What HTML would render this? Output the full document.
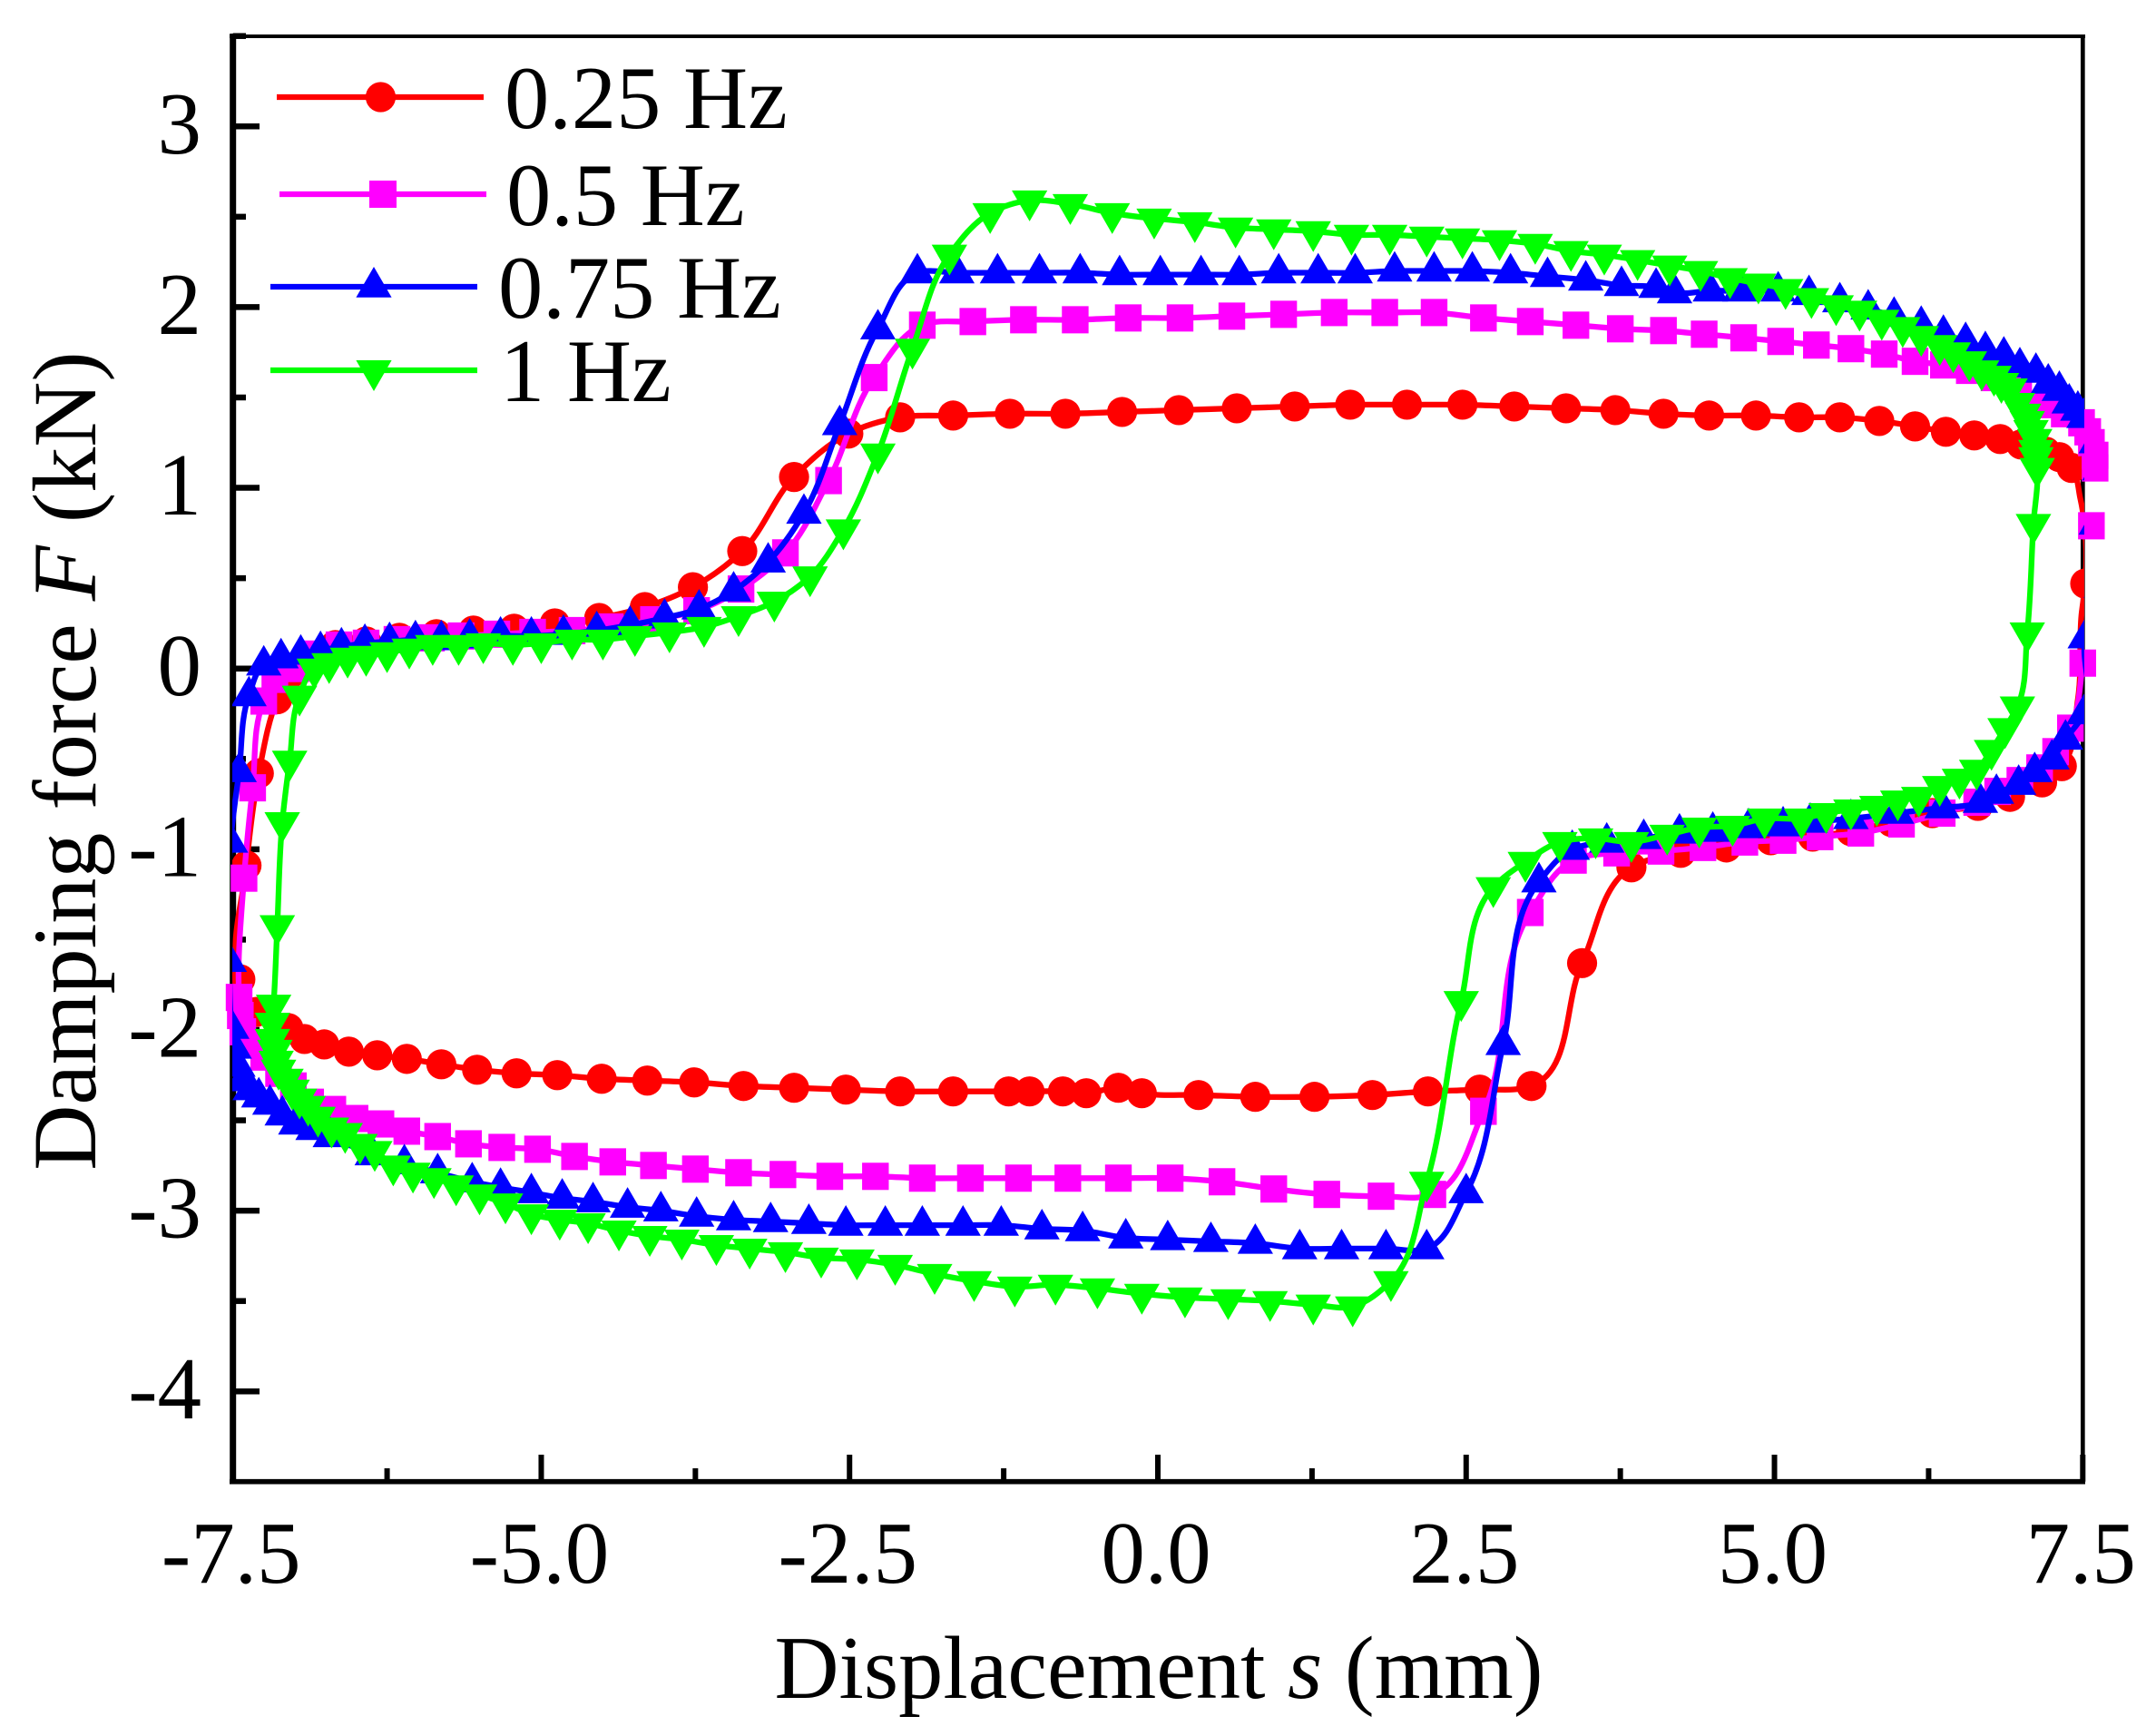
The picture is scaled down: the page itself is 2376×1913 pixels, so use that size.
<!DOCTYPE html>
<html lang="en">
<head>
<meta charset="utf-8">
<title>Damping force vs displacement</title>
<style>
html,body{margin:0;padding:0;background:#fff;}
svg{display:block;}
text{font-family:"Liberation Serif","Times New Roman",serif;fill:#000;font-size:100px;}
</style>
</head>
<body>
<svg id="chart" xmlns="http://www.w3.org/2000/svg" width="2376" height="1913" viewBox="0 0 2376 1913">
<defs>
<clipPath id="plot-clip"><rect x="256" y="0" width="2041" height="1913"/></clipPath>
</defs>
<rect x="0" y="0" width="2376" height="1913" fill="#fff"/>
<g id="axes"></g>
<g id="series"></g>
<text x="1277" y="1871" text-anchor="middle" style="font-size:98.4px">Displacement <tspan font-style="italic">s</tspan> (mm)</text>
<text transform="translate(105 838.5) rotate(-90)" text-anchor="middle">Damping force <tspan font-style="italic">F</tspan> (kN)</text>
<g>
<g>
<line x1="305" y1="107" x2="533" y2="107" stroke="#ff0000" stroke-width="6.3"/>
<circle cx="419.5" cy="107" r="16.6" fill="#ff0000"/>
<text x="556" y="141" style="font-size:98.5px">0.25 Hz</text>
</g>
<g>
<line x1="308" y1="214" x2="536" y2="214" stroke="#ff00ff" stroke-width="6.3"/>
<rect x="407" y="199" width="30" height="30" fill="#ff00ff"/>
<text x="558" y="248" style="font-size:98.5px">0.5 Hz</text>
</g>
<g>
<line x1="298" y1="316" x2="526" y2="316" stroke="#0000ff" stroke-width="6.3"/>
<polygon points="412,294 392.4,327.7 431.6,327.7" fill="#0000ff"/>
<text x="549" y="350" style="font-size:98.5px">0.75 Hz</text>
</g>
<g>
<line x1="298" y1="408" x2="526" y2="408" stroke="#00ff00" stroke-width="6.3"/>
<polygon points="412,431 392.4,397 431.6,397" fill="#00ff00"/>
<text x="551" y="442" style="font-size:98.5px">1 Hz</text>
</g>
</g>
</svg>
<script>
var xMajorTicks = [-7.5, -5, -2.5, 0, 2.5, 5, 7.5];
var xTickLabels = ["-7.5", "-5.0", "-2.5", "0.0", "2.5", "5.0", "7.5"];
var xMinorTicks = [-6.25, -3.75, -1.25, 1.25, 3.75, 6.25];
var yMajorTicks = [3, 2, 1, 0, -1, -2, -3, -4];
var yTickLabels = ["3", "2", "1", "0", "-1", "-2", "-3", "-4"];
var yMinorTicks = [3.5, 2.5, 1.5, 0.5, -0.5, -1.5, -2.5, -3.5];

var disp025 = [-7.44,-7.39,-7.29,-7.14,-7.05,-6.91,-6.67,-6.42,-6.15,-5.85,-5.55,-5.22,-4.89,-4.53,-4.16,-3.77,-3.37,-2.95,-2.51,-2.09,-1.66,-1.20,-0.75,-0.29,0.17,0.64,1.11,1.56,2.02,2.47,2.89,3.31,3.71,4.10,4.47,4.85,5.20,5.53,5.85,6.14,6.39,6.62,6.83,7.00,7.20,7.31,7.41,7.48,7.52,7.49,7.46,7.33,7.17,6.91,6.65,6.28,5.95,5.62,5.31,4.97,4.61,4.24,3.84,3.44,3.03,2.61,2.19,1.74,1.27,0.79,0.33,-0.13,-0.32,-0.58,-0.77,-1.04,-1.21,-1.66,-2.09,-2.53,-2.95,-3.36,-3.76,-4.14,-4.51,-4.87,-5.20,-5.52,-5.81,-6.09,-6.33,-6.56,-6.76,-6.92,-7.05,-7.31];
var force025 = [-1.72,-1.09,-0.58,-0.17,-0.04,0.07,0.13,0.15,0.17,0.19,0.21,0.22,0.25,0.28,0.34,0.45,0.65,1.06,1.30,1.39,1.40,1.41,1.41,1.42,1.43,1.44,1.45,1.46,1.46,1.46,1.45,1.44,1.43,1.41,1.40,1.40,1.39,1.39,1.37,1.34,1.31,1.29,1.27,1.24,1.20,1.17,1.11,0.94,0.47,0.30,-0.17,-0.54,-0.63,-0.71,-0.76,-0.80,-0.85,-0.90,-0.93,-0.95,-0.99,-1.02,-1.10,-1.63,-2.31,-2.33,-2.34,-2.36,-2.37,-2.37,-2.36,-2.35,-2.32,-2.35,-2.34,-2.34,-2.34,-2.34,-2.34,-2.33,-2.32,-2.31,-2.29,-2.28,-2.27,-2.25,-2.24,-2.22,-2.19,-2.16,-2.14,-2.12,-2.08,-2.05,-1.99,-1.90];
var lineOnly025 = [47, 49, 50];

var disp05 = [-7.45,-7.41,-7.34,-7.25,-7.16,-6.99,-6.87,-6.64,-6.42,-6.17,-5.89,-5.65,-5.36,-5.07,-4.75,-4.44,-4.09,-3.74,-3.38,-3.02,-2.67,-2.30,-1.91,-1.50,-1.09,-0.67,-0.24,0.18,0.60,1.02,1.43,1.84,2.24,2.64,3.02,3.39,3.75,4.10,4.43,4.75,5.05,5.34,5.62,5.89,6.14,6.37,6.58,6.78,6.98,7.19,7.35,7.49,7.54,7.57,7.60,7.60,7.57,7.50,7.40,7.28,7.15,6.99,6.81,6.64,6.36,6.03,5.70,5.37,5.07,4.76,4.42,4.08,3.72,3.37,3.02,2.64,2.23,1.81,1.37,0.94,0.52,0.10,-0.32,-0.73,-1.13,-1.52,-1.91,-2.29,-2.66,-3.04,-3.40,-3.75,-4.09,-4.42,-4.73,-5.03,-5.32,-5.59,-5.84,-6.09,-6.30,-6.51,-6.69,-6.87,-7.01,-7.13,-7.25,-7.35,-7.42,-7.44];
var force05 = [-1.82,-1.16,-0.66,-0.18,-0.06,0.00,0.08,0.13,0.14,0.16,0.17,0.18,0.19,0.20,0.21,0.23,0.27,0.32,0.44,0.64,1.04,1.61,1.90,1.92,1.93,1.93,1.94,1.94,1.95,1.96,1.97,1.97,1.97,1.94,1.92,1.90,1.88,1.87,1.85,1.83,1.81,1.79,1.77,1.74,1.70,1.68,1.65,1.61,1.54,1.46,1.41,1.36,1.31,1.25,1.18,1.11,0.79,0.03,-0.33,-0.46,-0.55,-0.62,-0.68,-0.74,-0.80,-0.86,-0.91,-0.93,-0.95,-0.96,-0.99,-1.01,-1.02,-1.06,-1.35,-2.45,-2.91,-2.92,-2.91,-2.88,-2.84,-2.82,-2.82,-2.82,-2.82,-2.82,-2.82,-2.81,-2.81,-2.80,-2.79,-2.77,-2.75,-2.73,-2.70,-2.66,-2.65,-2.63,-2.59,-2.56,-2.52,-2.49,-2.44,-2.40,-2.31,-2.24,-2.15,-2.08,-2.01,-1.92];

var disp075 = [-7.53,-7.52,-7.45,-7.37,-7.25,-7.11,-6.95,-6.79,-6.62,-6.43,-6.23,-6.02,-5.81,-5.58,-5.33,-5.08,-4.82,-4.55,-4.28,-4.00,-3.72,-3.44,-3.16,-2.87,-2.58,-2.27,-1.95,-1.63,-1.30,-0.96,-0.63,-0.31,0.02,0.35,0.66,0.98,1.30,1.60,1.92,2.24,2.55,2.86,3.16,3.47,3.76,4.04,4.19,4.48,4.72,5.03,5.28,5.53,5.76,5.97,6.19,6.37,6.55,6.71,6.86,6.99,7.12,7.22,7.31,7.39,7.46,7.51,7.61,7.64,7.61,7.65,7.52,7.51,7.36,7.25,7.11,6.98,6.80,6.67,6.36,5.99,5.62,5.29,5.07,4.79,4.50,4.23,3.94,3.64,3.36,3.09,2.80,2.50,2.18,1.85,1.49,1.15,0.79,0.43,0.08,-0.26,-0.61,-0.94,-1.27,-1.58,-1.91,-2.21,-2.53,-2.83,-3.14,-3.44,-3.74,-4.03,-4.30,-4.58,-4.83,-5.08,-5.33,-5.56,-5.84,-6.11,-6.37,-6.71,-6.85,-6.99,-7.10,-7.20,-7.29,-7.36,-7.42,-7.46,-7.49,-7.51];
var force075 = [-1.62,-0.96,-0.57,-0.15,0.02,0.06,0.08,0.10,0.12,0.14,0.15,0.16,0.16,0.17,0.18,0.18,0.19,0.21,0.24,0.28,0.33,0.43,0.59,0.86,1.35,1.88,2.19,2.19,2.19,2.19,2.19,2.18,2.18,2.18,2.18,2.19,2.19,2.19,2.20,2.20,2.20,2.19,2.17,2.15,2.12,2.11,2.08,2.09,2.09,2.09,2.07,2.03,1.99,1.95,1.90,1.85,1.81,1.76,1.73,1.67,1.64,1.58,1.54,1.47,1.43,1.39,1.25,1.10,0.80,0.45,0.17,-0.25,-0.39,-0.50,-0.57,-0.64,-0.69,-0.74,-0.77,-0.80,-0.83,-0.85,-0.87,-0.88,-0.90,-0.91,-0.94,-0.96,-1.00,-1.18,-2.08,-2.90,-3.21,-3.21,-3.21,-3.21,-3.18,-3.17,-3.16,-3.15,-3.11,-3.10,-3.08,-3.08,-3.08,-3.08,-3.08,-3.07,-3.06,-3.05,-3.03,-3.00,-2.98,-2.95,-2.93,-2.90,-2.87,-2.84,-2.79,-2.74,-2.69,-2.59,-2.55,-2.52,-2.47,-2.41,-2.37,-2.33,-2.28,-2.20,-2.10,-1.99];

var disp1 = [-7.17,-7.14,-7.10,-7.04,-6.96,-6.84,-6.72,-6.57,-6.42,-6.25,-6.07,-5.88,-5.67,-5.47,-5.23,-5.00,-4.75,-4.50,-4.24,-3.96,-3.68,-3.40,-3.11,-2.82,-2.55,-2.27,-1.99,-1.69,-1.36,-1.04,-0.71,-0.37,-0.03,0.30,0.63,0.94,1.26,1.57,1.88,2.18,2.47,2.77,3.06,3.35,3.62,3.89,4.15,4.40,4.64,4.87,5.09,5.30,5.50,5.69,5.87,6.04,6.19,6.34,6.45,6.58,6.68,6.78,6.84,6.91,6.97,7.02,7.05,7.08,7.11,7.12,7.12,7.13,7.10,7.05,6.97,6.87,6.76,6.64,6.50,6.34,6.17,6.00,5.83,5.62,5.42,5.22,4.92,4.66,4.39,4.13,3.84,3.55,3.26,2.98,2.72,2.46,2.18,1.89,1.58,1.26,0.91,0.57,0.22,-0.13,-0.49,-0.83,-1.16,-1.49,-1.81,-2.13,-2.44,-2.73,-3.02,-3.31,-3.58,-3.86,-4.12,-4.37,-4.62,-4.85,-5.08,-5.29,-5.50,-5.69,-5.87,-6.04,-6.20,-6.35,-6.47,-6.59,-6.70,-6.81,-6.89,-6.96,-7.02,-7.07,-7.13,-7.15,-7.16,-7.18,-7.18];
var force1 = [-1.86,-1.42,-0.85,-0.51,-0.15,0.00,0.03,0.06,0.07,0.09,0.11,0.13,0.13,0.14,0.13,0.14,0.16,0.16,0.18,0.20,0.23,0.29,0.37,0.51,0.77,1.19,1.77,2.29,2.52,2.59,2.57,2.52,2.49,2.47,2.44,2.43,2.42,2.40,2.40,2.39,2.38,2.37,2.35,2.31,2.29,2.26,2.23,2.20,2.16,2.13,2.10,2.05,2.01,1.98,1.93,1.89,1.84,1.79,1.75,1.70,1.65,1.62,1.58,1.55,1.47,1.41,1.37,1.32,1.27,1.21,1.17,1.11,0.80,0.20,-0.21,-0.33,-0.45,-0.56,-0.61,-0.65,-0.71,-0.73,-0.76,-0.78,-0.80,-0.83,-0.83,-0.87,-0.88,-0.92,-0.96,-0.94,-0.96,-1.07,-1.21,-1.84,-2.84,-3.39,-3.53,-3.52,-3.50,-3.49,-3.48,-3.46,-3.43,-3.41,-3.42,-3.39,-3.35,-3.30,-3.27,-3.26,-3.23,-3.21,-3.19,-3.16,-3.14,-3.11,-3.07,-3.05,-3.02,-2.96,-2.91,-2.86,-2.82,-2.79,-2.75,-2.67,-2.63,-2.57,-2.54,-2.48,-2.42,-2.38,-2.33,-2.27,-2.22,-2.17,-2.11,-2.05,-1.96];

var SVG_NS = "http://www.w3.org/2000/svg";
function xScale(v) { return 1276 + v * 135.907; }
function yScale(v) { return 736.7 - v * 199.14; }

function make(tag, attrs, parent) {
  var el = document.createElementNS(SVG_NS, tag);
  for (var k in attrs) { el.setAttribute(k, attrs[k]); }
  parent.appendChild(el);
  return el;
}

var axes = document.getElementById("axes");

var leftSpine = make("line", {x1: 256.7, y1: 37, x2: 256.7, y2: 1635.5, stroke: "#000", "stroke-width": 7}, axes);


var bottomSpine = make("line", {x1: 253, y1: 1632.7, x2: 2298, y2: 1632.7, stroke: "#000", "stroke-width": 5.7}, axes);


var topSpine = make("line", {x1: 253, y1: 40, x2: 2298, y2: 40, stroke: "#000", "stroke-width": 4}, axes);


var rightSpine = make("line", {x1: 2295.3, y1: 38, x2: 2295.3, y2: 1635.5, stroke: "#000", "stroke-width": 4.7}, axes);



xMajorTicks.forEach(function (v, i) {
  var px = xScale(v);
  var tick = make("line", {x1: px, y1: 1632.7, x2: px, y2: 1603, stroke: "#000", "stroke-width": 6}, axes);
  
  
  var label = make("text", {x: px - 2, y: 1744, "text-anchor": "middle", style: "font-size:97px"}, axes);
  
  
  label.textContent = xTickLabels[i];
});
xMinorTicks.forEach(function (v) {
  var px = xScale(v);
  var tick = make("line", {x1: px, y1: 1632.7, x2: px, y2: 1618, stroke: "#000", "stroke-width": 6}, axes);
  
  
});
yMajorTicks.forEach(function (v, i) {
  var py = yScale(v);
  var tick = make("line", {x1: 256.7, y1: py, x2: 286, y2: py, stroke: "#000", "stroke-width": 6.5}, axes);
  
  
  var label = make("text", {x: 222, y: py + 29.5, "text-anchor": "end", style: "font-size:97px"}, axes);
  
  
  label.textContent = yTickLabels[i];
});
yMinorTicks.forEach(function (v) {
  var py = yScale(v);
  var tick = make("line", {x1: 256.7, y1: py, x2: 271, y2: py, stroke: "#000", "stroke-width": 6.5}, axes);
  
  
});

function drawCircle(g, cx, cy, color) {
  return make("circle", {cx: cx, cy: cy, r: 16.6, fill: color}, g);
}
function drawSquare(g, cx, cy, color) {
  return make("rect", {x: cx - 14.7, y: cy - 15, width: 29.4, height: 30, fill: color}, g);
}
function drawUp(g, cx, cy, color) {
  return make("polygon", {points: cx + "," + (cy - 22) + " " + (cx - 19.6) + "," + (cy + 11.7) + " " + (cx + 19.6) + "," + (cy + 11.7), fill: color}, g);
}
function drawDown(g, cx, cy, color) {
  return make("polygon", {points: cx + "," + (cy + 23) + " " + (cx - 19.6) + "," + (cy - 11) + " " + (cx + 19.6) + "," + (cy - 11), fill: color}, g);
}

/* Closed smooth curve: tangents weighted toward the shorter neighbouring segment, so hockey-stick corners do not overshoot. */
function smoothLoop(pts) {
  var n = pts.length, tans = [], i;
  for (i = 0; i < n; i++) {
    var a = pts[(i - 1 + n) % n], b = pts[i], c = pts[(i + 1) % n];
    var d0x = b[0] - a[0], d0y = b[1] - a[1], d1x = c[0] - b[0], d1y = c[1] - b[1];
    var l0 = Math.hypot(d0x, d0y) || 1, l1 = Math.hypot(d1x, d1y) || 1;
    var tx = d0x / l0 * l1 + d1x / l1 * l0, ty = d0y / l0 * l1 + d1y / l1 * l0;
    var tl = Math.hypot(tx, ty) || 1;
    tans.push([tx / tl, ty / tl]);
  }
  var d = "M" + pts[0][0].toFixed(1) + " " + pts[0][1].toFixed(1);
  for (i = 0; i < n; i++) {
    var p = pts[i], q = pts[(i + 1) % n], t0 = tans[i], t1 = tans[(i + 1) % n];
    var h = Math.hypot(q[0] - p[0], q[1] - p[1]) * 0.33;
    d += "C" + (p[0] + t0[0] * h).toFixed(1) + " " + (p[1] + t0[1] * h).toFixed(1) + " " +
         (q[0] - t1[0] * h).toFixed(1) + " " + (q[1] - t1[1] * h).toFixed(1) + " " +
         q[0].toFixed(1) + " " + q[1].toFixed(1);
  }
  return d + "Z";
}

function drawSeries(seriesName, xs, ys, color, marker, clipMarkers, skip) {
  var layer = document.getElementById("series");
  var g = make("g", {}, layer);
  
  
  var n = Math.min(xs.length, ys.length), pts = [];
  for (var i = 0; i < n; i++) { pts.push([xScale(xs[i]), yScale(ys[i])]); }
  var path = make("path", {d: smoothLoop(pts), fill: "none", stroke: color, "stroke-width": 6.3, "stroke-linejoin": "round", "clip-path": "url(#plot-clip)"}, g);
  
  
  var mg = make("g", {}, g);
  
  
  if (clipMarkers) { mg.setAttribute("clip-path", "url(#plot-clip)"); }
  for (var j = 0; j < n; j++) {
    if (skip && skip.indexOf(j) >= 0) { continue; }
    var m = marker(mg, pts[j][0], pts[j][1], color);
    
    
  }
}

drawSeries("series-0.25-hz", disp025, force025, "#ff0000", drawCircle, true, lineOnly025);
drawSeries("series-0.5-hz", disp05, force05, "#ff00ff", drawSquare, false);
drawSeries("series-0.75-hz", disp075, force075, "#0000ff", drawUp, true);
drawSeries("series-1-hz", disp1, force1, "#00ff00", drawDown, true);
</script>
</body>
</html>
